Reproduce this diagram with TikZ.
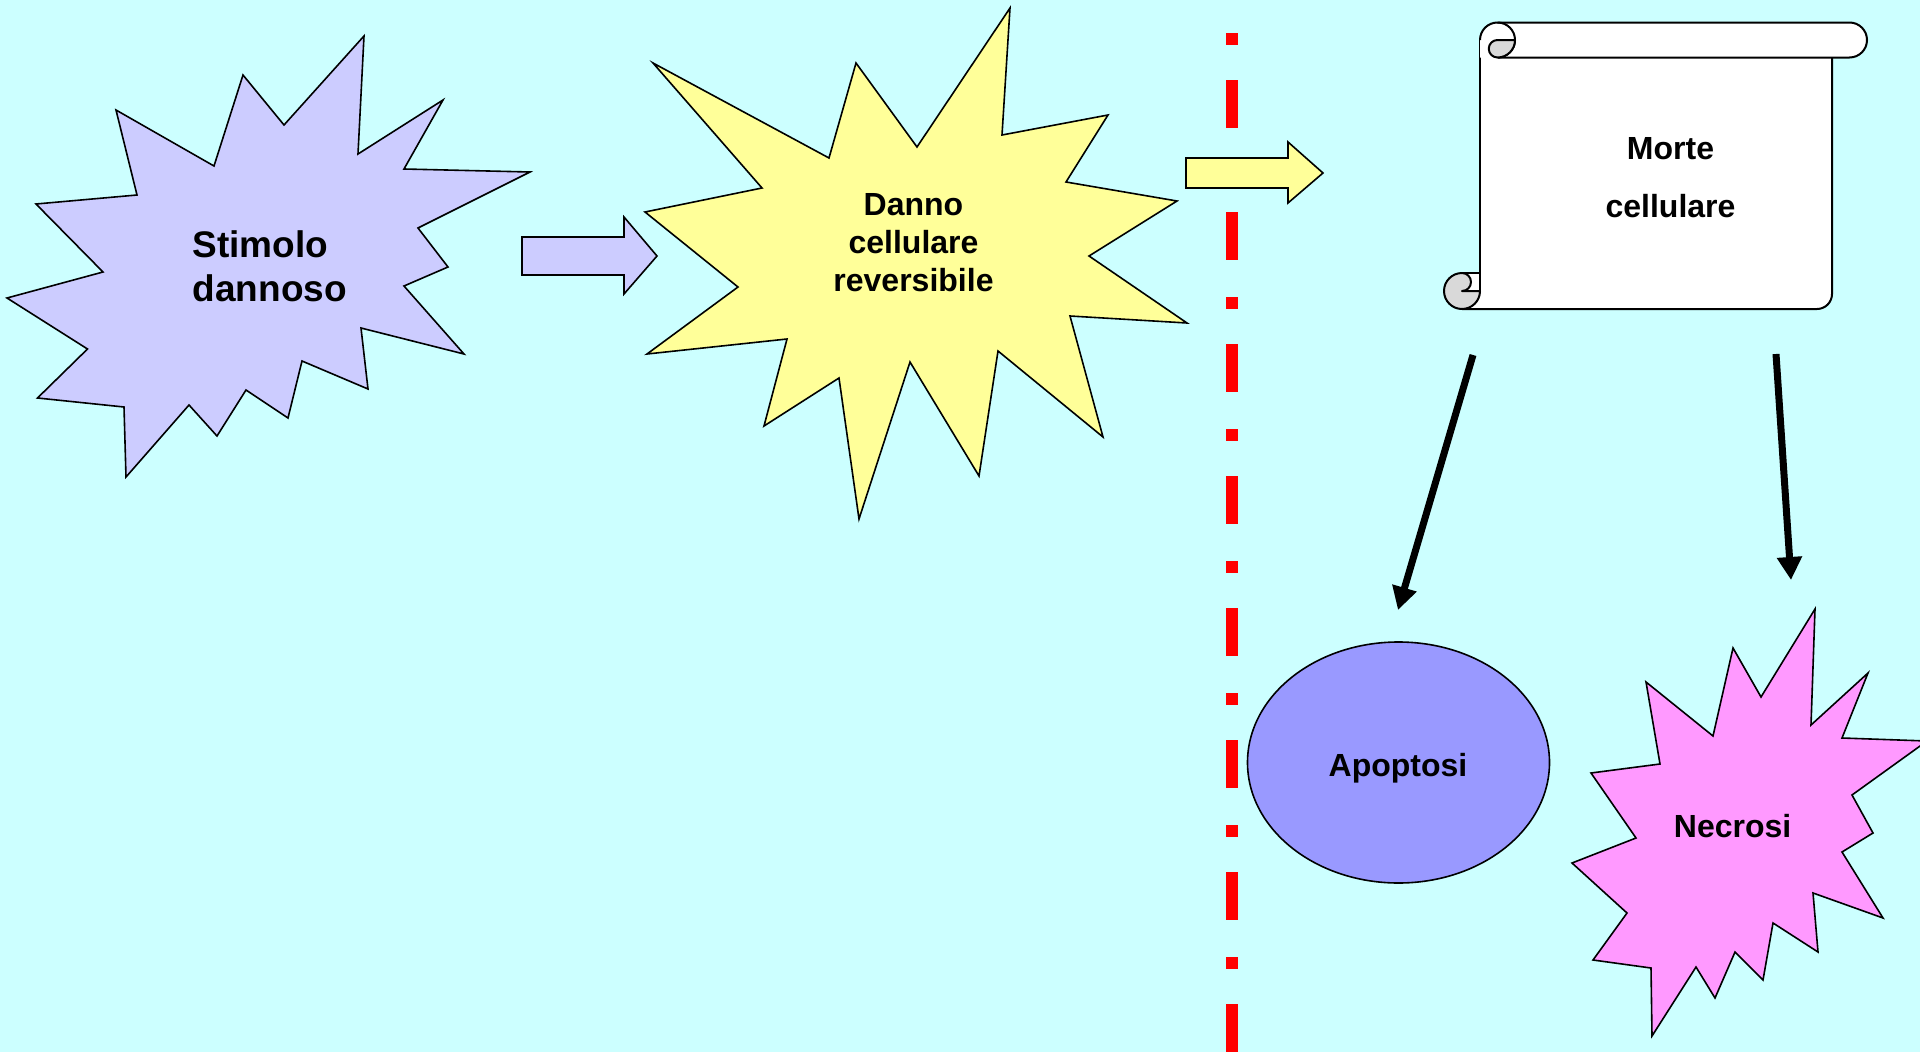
\documentclass[tikz,border=0pt]{standalone}
\usepackage{fontspec}
\setmainfont{Liberation Sans}
\usetikzlibrary{arrows.meta,shapes.geometric}
\definecolor{bgc}{HTML}{CCFFFF}
\definecolor{lav}{HTML}{CCCCFF}
\definecolor{yel}{HTML}{FFFF99}
\definecolor{pinkc}{HTML}{FF99FF}
\definecolor{apoc}{HTML}{9999FF}
\definecolor{curlc}{HTML}{D9D9D9}
\definecolor{redc}{HTML}{FF0000}
\begin{document}
\begin{tikzpicture}[x=1pt,y=-1pt,
  outl/.style={draw=black, line width=1.6pt, line join=miter},
  scrl/.style={draw=black, line width=2pt, line join=round},
  lbl/.style={inner sep=0pt, text=black},
  bigtxt/.style={font=\fontsize{37}{44.5}\selectfont\bfseries},
  midtxt/.style={font=\fontsize{32}{38}\selectfont\bfseries},
  conn/.style={draw=black, line width=7pt, -{Triangle[length=23pt,width=24pt]}}]
\fill[bgc] (0,0) rectangle (1920,1052);
\useasboundingbox (0,0) rectangle (1920,1052);

% dash-dot separator
\draw[redc, line width=12pt, dash pattern=on 12pt off 35pt on 48pt off 37pt] (1232,33) -- (1232,1052);

% Stimolo dannoso star
\draw[outl, fill=lav] (364,36) -- (358,154) -- (443,100) -- (404,169) -- (530,172) -- (418,228) -- (448,267) -- (404,286) -- (464,354) -- (361,328) -- (368,389) -- (302,361) -- (288,418) -- (246,390) -- (217,436) -- (189,405) -- (126,477) -- (124,407) -- (37.5,398) -- (87.5,349) -- (7,298) -- (103,272) -- (36,204) -- (137,195) -- (116,110) -- (214,166) -- (243,75) -- (284,125) -- cycle;
\node[lbl, bigtxt, align=left, anchor=west] (stimolo) at (192.5,266.3) {Stimolo\\dannoso};

% block arrow 1
\draw[outl, fill=lav] (522,237) -- (624,237) -- (624,217) -- (657,256) -- (624,294) -- (624,275) -- (522,275) -- cycle;

% Danno cellulare reversibile star
\draw[outl, fill=yel] (1010,8) -- (1002,135) -- (1108,115) -- (1066,182) -- (1177,201) -- (1089,256) -- (1187,323) -- (1070,316) -- (1103,437) -- (998,351) -- (979,476) -- (910,362) -- (859,519) -- (839,378) -- (764,426) -- (787,339) -- (647,354) -- (738,287) -- (645,212) -- (762,188) -- (653,63) -- (829,158) -- (856,63) -- (917,147) -- cycle;
\node[lbl, midtxt, align=center] (danno) at (913.5,242.3) {Danno\\cellulare\\reversibile};

% block arrow 2
\draw[outl, fill=yel] (1186,158) -- (1288,158) -- (1288,142) -- (1323,173) -- (1288,203) -- (1288,188) -- (1186,188) -- cycle;

% scroll
\fill[white] (1480,40) -- (1480,291) arc[start angle=0,end angle=90,radius=18] -- (1817,309) arc[start angle=90,end angle=0,radius=15] -- (1832,40) -- cycle;
\fill[white] (1462,273) rectangle (1480,291);
\draw[scrl] (1480,40) -- (1480,291);
\draw[scrl] (1462,273) -- (1480,273);
\draw[scrl] (1462,309) -- (1817,309) arc[start angle=90,end angle=0,radius=15] -- (1832,57);
\fill[white] (1480,40) arc[start angle=180,end angle=270,radius=17.5] -- (1849.5,22.5) arc[start angle=270,end angle=450,radius=17.5] -- (1480,57.5) -- cycle;
\draw[scrl] (1480,40) arc[start angle=180,end angle=270,radius=17.5] -- (1849.5,22.5) arc[start angle=270,end angle=450,radius=17.5] -- (1497.5,57.5);
\draw[scrl] (1497.5,22.5) arc[start angle=270,end angle=450,radius=17.5];
\filldraw[scrl, fill=curlc] (1515,40) -- (1497.5,40) arc[start angle=270,end angle=90,radius=8.75] arc[start angle=90,end angle=0,radius=17.5] -- cycle;
\filldraw[scrl, fill=curlc] (1462,273) arc[start angle=270,end angle=0,radius=18] -- (1462,291) arc[start angle=90,end angle=-90,radius=9] -- cycle;
\node[lbl, font=\fontsize{32}{58.5}\selectfont\bfseries, align=center] (morte) at (1670.5,177.6) {Morte\\cellulare};

% Apoptosi
\node[ellipse, draw=black, line width=1.6pt, fill=apoc, minimum width=302pt, minimum height=241pt, inner sep=0pt] (apoptosi) at (1398.5,762.5) {};
\node[lbl, midtxt, anchor=base] (apotext) at (1398,776.7) {Apoptosi};

% Necrosi star
\draw[outl, fill=pinkc] (1815,609) -- (1811,725) -- (1868,673) -- (1842,738) -- (1927,741) -- (1852,795) -- (1873,833) -- (1842,852) -- (1883,918) -- (1813,893) -- (1818,952) -- (1773,923) -- (1763,980) -- (1735,952) -- (1715,998) -- (1696,967) -- (1652,1036) -- (1651,968) -- (1593,960) -- (1627,913) -- (1572,863) -- (1636,838) -- (1591,773) -- (1660,764) -- (1646,682) -- (1713,736) -- (1733,648) -- (1761,697) -- cycle;
\node[lbl, midtxt, anchor=base] (necrosi) at (1732.6,837) {Necrosi};

% connectors
\coordinate (mstartA) at (1473,355);
\coordinate (apoin) at (1398,610);
\coordinate (mstartN) at (1776,354);
\coordinate (necin) at (1791,580);
\draw[conn] (mstartA) -- (apoin);
\draw[conn] (mstartN) -- (necin);
\end{tikzpicture}
\end{document}
